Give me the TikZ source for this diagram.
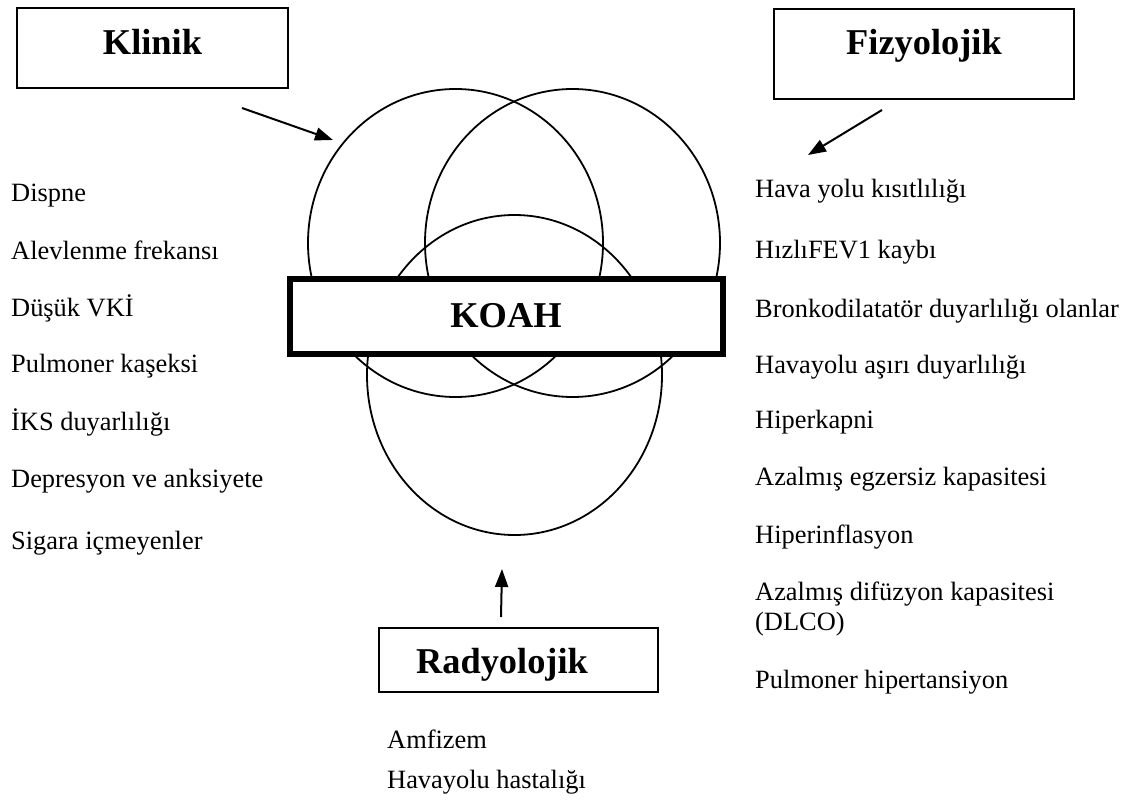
\documentclass[tikz,border=0pt]{standalone}
\usepackage{fontspec}
\setmainfont{Liberation Serif}
\usetikzlibrary{arrows.meta}
\begin{document}
\begin{tikzpicture}[x=1bp,y=-1bp,
    box/.style={draw,line width=1.8bp,inner sep=0pt},
    title/.style={font=\fontsize{36.5}{40}\selectfont\bfseries,anchor=base,inner sep=0pt},
    item/.style={font=\fontsize{26.5}{30}\selectfont,anchor=base west,inner sep=0pt,align=left},
    ring/.style={line width=1.8bp},
    pointer/.style={line width=2bp,-{Triangle[length=18bp,width=13bp]}}]
    \useasboundingbox (0,0) rectangle (1137,801);
    % three overlapping circles
    \draw[ring] (455.5,243) ellipse [x radius=147.5bp, y radius=154bp];
    \draw[ring] (572.5,243) ellipse [x radius=147.5bp, y radius=154bp];
    \draw[ring] (514.5,375) ellipse [x radius=147.5bp, y radius=160bp];
    % KOAH box on top
    \node[box,fill=white,line width=5.5bp,minimum width=433bp,minimum height=75bp] (koah) at (506.5,316.5) {};
    \node[title] (koahText) at (506,327) {KOAH};
    % title boxes
    \node[box,minimum width=271bp,minimum height=80bp] (klinik) at (152.5,48) {};
    \node[title] (klinikText) at (152.5,55) {Klinik};
    \node[box,minimum width=300bp,minimum height=90bp] (fizyo) at (924,54) {};
    \node[title] (fizyoText) at (924,55) {Fizyolojik};
    \node[box,minimum width=279bp,minimum height=64bp] (radyo) at (518.5,660) {};
    \node[title] (radyoText) at (502,673) {Radyolojik};
    % arrows
    \coordinate (klinikTail) at (242,108);
    \coordinate (klinikTip) at (333,140);
    \coordinate (fizyoTail) at (882,110);
    \coordinate (fizyoTip) at (808,155);
    \coordinate (radyoTail) at (501,617);
    \coordinate (radyoTip) at (502,569);
    \draw[pointer] (klinikTail) -- (klinikTip);
    \draw[pointer] (fizyoTail) -- (fizyoTip);
    \draw[pointer] (radyoTail) -- (radyoTip);
    % clinical list
    \node[item] (k1) at (11,201) {Dispne};
    \node[item] (k2) at (11,259) {Alevlenme frekansı};
    \node[item] (k3) at (11,316) {Düşük VKİ};
    \node[item] (k4) at (11,372) {Pulmoner kaşeksi};
    \node[item] (k5) at (11,430) {İKS duyarlılığı};
    \node[item] (k6) at (11,487) {Depresyon ve anksiyete};
    \node[item] (k7) at (11,549) {Sigara içmeyenler};
    % physiological list
    \node[item] (f1) at (755,197) {Hava yolu kısıtlılığı};
    \node[item] (f2) at (755,258) {HızlıFEV1 kaybı};
    \node[item] (f3) at (755,317) {Bronkodilatatör duyarlılığı olanlar};
    \node[item] (f4) at (755,373) {Havayolu aşırı duyarlılığı};
    \node[item] (f5) at (755,428) {Hiperkapni};
    \node[item] (f6) at (755,485) {Azalmış egzersiz kapasitesi};
    \node[item] (f7) at (755,543) {Hiperinflasyon};
    \node[item] (f8) at (755,600) {Azalmış difüzyon kapasitesi};
    \node[item] (f8b) at (755,630) {(DLCO)};
    \node[item] (f9) at (755,688) {Pulmoner hipertansiyon};
    % radiological list
    \node[item] (r1) at (387,748) {Amfizem};
    \node[item] (r2) at (387,788) {Havayolu hastalığı};
\end{tikzpicture}
\end{document}
